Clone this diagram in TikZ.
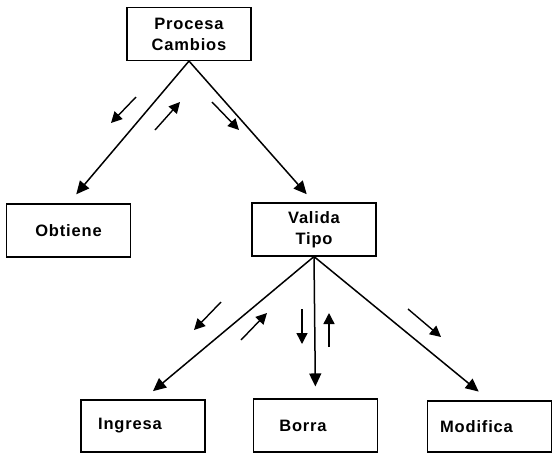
\documentclass[tikz,border=0pt]{standalone}
\usepackage{fontspec}
\setmainfont{Liberation Sans}[LetterSpace=5]
\usetikzlibrary{arrows.meta}
\begin{document}
\begin{tikzpicture}[x=1pt,y=-1pt,
  box/.style={draw,line width=1.1pt,minimum width=124pt,minimum height=53pt,
    inner sep=0pt,align=center,font=\fontsize{16.5}{21}\selectfont\bfseries},
  link/.style={line width=1.5pt,-{Triangle[length=13pt,width=12pt]}},
  flow/.style={line width=1.4pt,-{Triangle[length=11pt,width=11pt]}}]
  \useasboundingbox (0,0) rectangle (552,453);

  % modules
  \node[box] (pc) at (189,34) {Procesa\\Cambios};
  \node[box] (ob) at (68.5,230.5) {Obtiene};
  \node[box] (vt) at (314,229.5) {Valida\\Tipo};
  \node[box,minimum height=52pt] (in) at (143,426) {Ingresa\hspace*{26pt}};
  \node[box,minimum height=53pt] (bo) at (315.5,425.5) {Borra\hspace*{25pt}};
  \node[box,minimum height=51pt] (mo) at (489.5,426.5) {Modifica\hspace*{26pt}};

  % calls
  \draw[link,shorten >=12pt] (pc.south) -- (ob.north);
  \draw[link,shorten >=11pt] (pc.south) -- (vt.north);
  \draw[link,shorten >=13pt] (vt.south) -- (in.north);
  \draw[link,shorten >=12pt] (vt.south) -- (bo.north);
  \draw[link,shorten >=14pt] (vt.south) -- (mo.north);

  % data flow between modules
  \coordinate (a1) at (136,97);  \coordinate (a2) at (111,123);
  \coordinate (b1) at (155,130); \coordinate (b2) at (180,102);
  \coordinate (c1) at (212,102); \coordinate (c2) at (239,130);
  \coordinate (d1) at (221,302); \coordinate (d2) at (194,330);
  \coordinate (e1) at (241,340); \coordinate (e2) at (267,313);
  \coordinate (f1) at (302,309); \coordinate (f2) at (302,344);
  \coordinate (g1) at (329,347); \coordinate (g2) at (329,313);
  \coordinate (h1) at (408,309); \coordinate (h2) at (441,337);
  \foreach \s/\t in {a1/a2,b1/b2,c1/c2,d1/d2,e1/e2,f1/f2,g1/g2,h1/h2}
    \draw[flow] (\s) -- (\t);
\end{tikzpicture}
\end{document}
